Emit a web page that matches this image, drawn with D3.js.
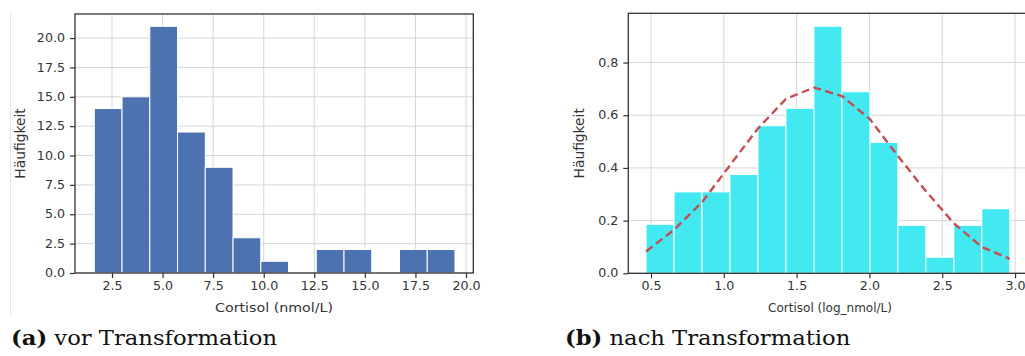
<!DOCTYPE html>
<html>
<head>
<meta charset="utf-8">
<script src="https://cdn.jsdelivr.net/npm/d3@7"></script>
<style>
  html, body { margin: 0; padding: 0; background: #fff; }
  svg { display: block; }
</style>
</head>
<body>
<svg id="fig" width="1025" height="356"></svg>
<script>
// Cortisol histogram before transformation (absolute counts)
const rawCounts = [14, 15, 21, 12, 9, 3, 1, 0, 2, 2, 0, 2, 2];
const rawRange = [1.625, 19.455];          // first and last bin edge (nmol/L)
const rawXTicks = [2.5, 5.0, 7.5, 10.0, 12.5, 15.0, 17.5, 20.0];
const rawYTicks = [0, 2.5, 5, 7.5, 10, 12.5, 15, 17.5, 20];

// Cortisol histogram after log transformation (density)
const logDensity = [0.186, 0.309, 0.309, 0.375, 0.56, 0.626, 0.938, 0.689, 0.497, 0.182, 0.061, 0.182, 0.245];
const logRange = [0.466, 2.964];            // first and last bin edge (log nmol/L)
// fitted normal curve, sampled at the bin edges
const fitDensity = [0.083, 0.165, 0.27, 0.41, 0.55, 0.662, 0.705, 0.673, 0.585, 0.445, 0.312, 0.19, 0.10, 0.055];
const logXTicks = [0.5, 1.0, 1.5, 2.0, 2.5, 3.0];
const logYTicks = [0, 0.2, 0.4, 0.6, 0.8];

const svg = d3.select("#fig");
const TICK_FONT = "'DejaVu Sans', sans-serif";
const STRETCH = 1.1;

function binEdges(range, n) {
  const w = (range[1] - range[0]) / n;
  return d3.range(n + 1).map(i => range[0] + i * w);
}

function panel(opts) {
  const g = svg.append("g");
  const x = d3.scaleLinear().domain(opts.xDomain).range([opts.left, opts.right]);
  const y = d3.scaleLinear().domain(opts.yDomain).range([opts.bottom, opts.top]);

  // grid
  g.append("g").selectAll("line").data(opts.xTicks).join("line")
    .attr("x1", d => x(d)).attr("x2", d => x(d))
    .attr("y1", opts.top).attr("y2", opts.bottom)
    .attr("stroke", "#d6d6d6").attr("stroke-width", 1);
  g.append("g").selectAll("line").data(opts.yTicks).join("line")
    .attr("x1", opts.left).attr("x2", opts.right)
    .attr("y1", d => y(d)).attr("y2", d => y(d))
    .attr("stroke", "#d6d6d6").attr("stroke-width", 1);

  // bars
  const edges = binEdges(opts.binRange, opts.values.length);
  g.append("g").selectAll("rect").data(opts.values).join("rect")
    .attr("x", (d, i) => x(edges[i]))
    .attr("width", (d, i) => x(edges[i + 1]) - x(edges[i]))
    .attr("y", d => y(d))
    .attr("height", d => y(0) - y(d))
    .attr("fill", opts.color)
    .attr("stroke", "#ffffff").attr("stroke-width", 1);

  if (opts.curve) {
    const line = d3.line().x((d, i) => x(edges[i])).y(d => y(d));
    g.append("path").datum(opts.curve)
      .attr("d", line)
      .attr("fill", "none")
      .attr("stroke", "#c44e52")
      .attr("stroke-width", 2.4)
      .attr("stroke-dasharray", "8,4.5");
  }

  // frame
  g.append("rect")
    .attr("x", opts.left).attr("y", opts.top)
    .attr("width", opts.right - opts.left).attr("height", opts.bottom - opts.top)
    .attr("fill", "none").attr("stroke", "#333").attr("stroke-width", 1.3);

  // axes
  const xAxis = g.append("g").attr("transform", `translate(0,${opts.bottom})`)
    .call(d3.axisBottom(x).tickValues(opts.xTicks).tickFormat(d3.format(".1f")).tickSize(5).tickPadding(4));
  const yAxis = g.append("g").attr("transform", `translate(${opts.left},0)`)
    .call(d3.axisLeft(y).tickValues(opts.yTicks).tickFormat(d3.format(".1f")).tickSize(5).tickPadding(5));
  [xAxis, yAxis].forEach(a => {
    a.select(".domain").remove();
    a.selectAll(".tick line").attr("stroke", "#333").attr("stroke-width", 1.2);
    a.selectAll(".tick text")
      .attr("fill", "#333")
      .style("font-family", TICK_FONT)
      .style("font-size", "11.5px");
  });
  xAxis.selectAll(".tick text").attr("transform", `scale(${STRETCH},1)`);
  yAxis.selectAll(".tick text").attr("transform", `translate(-10,0) scale(${STRETCH},1) translate(10,0)`);

  // axis labels
  g.append("text")
    .attr("transform", `translate(${opts.xLabelX},308) scale(${opts.xLabelStretch},1)`)
    .attr("text-anchor", "middle")
    .attr("dominant-baseline", "middle")
    .style("font-family", TICK_FONT).style("font-size", opts.xLabelSize + "px").attr("fill", "#333")
    .text(opts.xLabel);
  g.append("text")
    .attr("transform", `translate(${opts.yLabelX},${(opts.top + opts.bottom) / 2}) rotate(-90)`)
    .attr("text-anchor", "middle")
    .attr("dominant-baseline", "middle")
    .style("font-family", TICK_FONT).style("font-size", "13.8px").attr("fill", "#333")
    .text("Häufigkeit");

  // caption
  const cap = svg.append("text")
    .attr("transform", `translate(${opts.capX},345) scale(1.08,1)`)
    .style("font-family", "'DejaVu Serif', serif").style("font-size", "21px").attr("fill", "#111");
  cap.append("tspan").style("font-weight", "bold").text(opts.capTag);
  cap.append("tspan").text(" " + opts.capText);
}

// faint edge of the left figure
svg.append("line").attr("x1", 10.5).attr("x2", 10.5).attr("y1", 13).attr("y2", 315)
  .attr("stroke", "#e4e4e4").attr("stroke-width", 1);

panel({
  left: 75, right: 473.3, top: 14, bottom: 273,
  xDomain: [0.671, 20.36], yDomain: [0, 22.05],
  xTicks: rawXTicks, yTicks: rawYTicks,
  values: rawCounts, binRange: rawRange, color: "#4c72b0",
  xLabel: "Cortisol (nmol/L)", xLabelX: 274, xLabelSize: 12.5, xLabelStretch: 1.14, yLabelX: 21,
  capX: 11, capTag: "(a)", capText: "vor Transformation"
});

panel({
  left: 628.3, right: 1028, top: 13.3, bottom: 273.3,
  xDomain: [0.344, 3.089], yDomain: [0, 0.987],
  xTicks: logXTicks, yTicks: logYTicks,
  values: logDensity, binRange: logRange, color: "#42e9f1",
  curve: fitDensity,
  xLabel: "Cortisol (log_nmol/L)", xLabelX: 830, xLabelSize: 12, xLabelStretch: 1.0, yLabelX: 580,
  capX: 565, capTag: "(b)", capText: "nach Transformation"
});
</script>
</body>
</html>
